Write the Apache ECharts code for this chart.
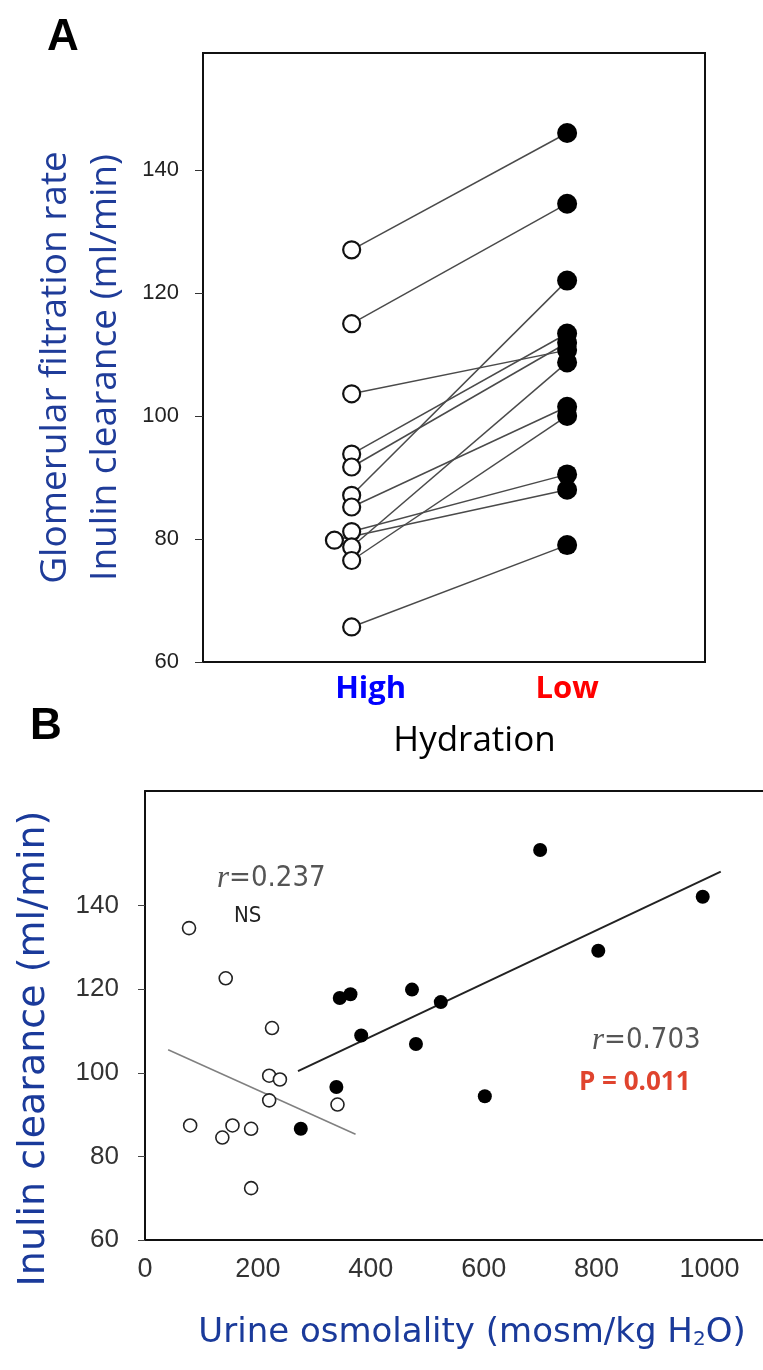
<!DOCTYPE html>
<html>
<head>
<meta charset="utf-8">
<script src="https://cdn.jsdelivr.net/npm/echarts@6/dist/echarts.min.js"></script>
<style>
  html, body { margin: 0; padding: 0; background: #fff; }
  #chart { width: 763px; height: 1370px; }
</style>
</head>
<body>
<div id="chart"></div>
<script>
// Panel A: paired GFR values, high vs low hydration
const highGfr = [127, 115, 103.6, 93.8, 91.7, 87.1, 85.2, 81.2, 79.8, 78.7, 76.5, 65.7];
const lowGfr  = [146, 134.5, 110.7, 113.4, 111.9, 122, 101.5, 90.5, 88, 108.7, 100, 79];
// x position of each high-hydration circle (one sits a bit to the left)
const highPos = [1, 1, 1, 1, 1, 1, 1, 1, 0.92, 1, 1, 1];
const hydrationTicks = ['High', 'Low'];
const gfrTicks = [60, 80, 100, 120, 140];

// Panel B: urine osmolality vs inulin clearance
const highOsm = [78, 143, 225, 220, 239, 220, 341, 80, 155, 137, 188, 188];
const highClr = [134.6, 122.6, 110.7, 99.3, 98.4, 93.4, 92.4, 87.4, 87.4, 84.5, 86.6, 72.4];
const lowOsm  = [700, 988, 803, 345, 364, 473, 524, 383, 480, 339, 276, 602];
const lowClr  = [153.3, 142.1, 129.2, 117.9, 118.8, 119.9, 116.9, 108.9, 106.9, 96.6, 86.6, 94.4];
const osmTicks = [0, 200, 400, 600, 800, 1000];
const clrTicks = [60, 80, 100, 120, 140];
// regression line endpoints as drawn
const highFitX = [41, 373];
const highFitY = [105.5, 85.3];
const lowFitX  = [271, 1020];
const lowFitY  = [100.4, 148.1];

const narrow = '"DejaVu Sans Condensed", "Liberation Sans", sans-serif';
const frame = { show: true, lineStyle: { color: '#111', width: 2 } };

const chart = echarts.init(document.getElementById('chart'));

const pairSeries = highGfr.map((h, i) => ({
  type: 'line',
  xAxisIndex: 0, yAxisIndex: 0,
  data: [[highPos[i], h], [2, lowGfr[i]]],
  symbol: 'none',
  silent: true,
  lineStyle: { color: '#4a4a4a', width: 1.5 },
  z: 2
}));

const option = {
  animation: false,
  backgroundColor: '#fff',
  grid: [
    { left: 203, top: 53, width: 502, height: 609, show: true, borderColor: '#111', borderWidth: 2 },
    // panel B is cut off at the right edge, so only three sides are drawn
    { left: 145, top: 791, right: 0, height: 449 }
  ],
  xAxis: [
    {
      type: 'value', gridIndex: 0, min: 0.31, max: 2.64,
      splitLine: { show: false }, axisLine: { show: false }, axisTick: { show: false },
      axisLabel: {
        margin: 12,
        formatter: v => Math.abs(v - 1) < 1e-6 ? '{h|' + hydrationTicks[0] + '}' :
                        Math.abs(v - 2) < 1e-6 ? '{l|' + hydrationTicks[1] + '}' : '',
        rich: {
          h: { color: '#0000ff', fontFamily: 'Open Sans', fontWeight: 'bold', fontSize: 31, padding: [0, 0, 0, 38] },
          l: { color: '#ff0000', fontFamily: 'Open Sans', fontWeight: 'bold', fontSize: 31 }
        }
      },
      name: 'Hydration', nameLocation: 'middle', nameGap: 62,
      nameTextStyle: { color: '#000', fontFamily: 'Open Sans', fontSize: 35, padding: [0, 0, 0, 41] }
    },
    {
      type: 'value', gridIndex: 1, min: 0, max: 1094.8, interval: 200,
      splitLine: { show: false }, axisLine: frame, axisTick: { show: false },
      axisLabel: {
        margin: 16, color: '#333', fontFamily: 'Liberation Sans', fontSize: 27,
        customValues: osmTicks,
        formatter: v => (osmTicks.indexOf(v) >= 0 ? String(v) : '')
      },
      name: 'Urine osmolality (mosm/kg H{sub|2}O)', nameLocation: 'middle', nameGap: 76,
      nameTextStyle: {
        color: '#1a3a9a', fontFamily: 'DejaVu Sans', fontSize: 34, padding: [0, 0, 0, 36],
        rich: { sub: { fontFamily: 'DejaVu Sans', fontSize: 20, color: '#1a3a9a', padding: [14, 0, 0, 0] } }
      }
    },
    {
      // top edge of panel B frame
      type: 'value', gridIndex: 1, position: 'top', min: 0, max: 1094.8,
      splitLine: { show: false }, axisLine: frame, axisTick: { show: false }, axisLabel: { show: false }
    }
  ],
  yAxis: [
    {
      type: 'value', gridIndex: 0, min: 60, max: 159, interval: 20,
      splitLine: { show: false }, axisLine: { show: false },
      axisTick: { show: true, length: 8, lineStyle: { color: '#333' }, customValues: gfrTicks },
      axisLabel: {
        margin: 24, color: '#222', fontFamily: 'Liberation Sans', fontSize: 22,
        customValues: gfrTicks,
        formatter: v => (gfrTicks.indexOf(v) >= 0 ? String(v) : '')
      },
      name: 'Glomerular filtration rate\nInulin clearance (ml/min)', nameLocation: 'middle', nameGap: 73,
      nameTextStyle: { color: '#1f3c99', fontFamily: 'Open Sans', fontSize: 37, lineHeight: 50, padding: [0, 20, 0, 0] }
    },
    {
      type: 'value', gridIndex: 1, min: 60, max: 167.4, interval: 20,
      splitLine: { show: false }, axisLine: frame,
      axisTick: { show: true, length: 7, lineStyle: { color: '#444' }, customValues: clrTicks },
      axisLabel: {
        margin: 26, color: '#333', fontFamily: 'Liberation Sans', fontSize: 26,
        customValues: clrTicks,
        formatter: v => (clrTicks.indexOf(v) >= 0 ? String(v) : '')
      },
      name: 'Inulin clearance (ml/min)', nameLocation: 'middle', nameGap: 90,
      nameTextStyle: { color: '#1a3a9a', fontFamily: 'DejaVu Sans', fontSize: 38, lineHeight: 42, padding: [0, 66, 0, 0] }
    }
  ],
  series: pairSeries.concat([
    {
      type: 'scatter', xAxisIndex: 0, yAxisIndex: 0,
      data: highGfr.map((v, i) => [highPos[i], v]),
      symbol: 'circle', symbolSize: 17,
      itemStyle: { color: '#fff', borderColor: '#111', borderWidth: 2.2, opacity: 1 },
      z: 4
    },
    {
      type: 'scatter', xAxisIndex: 0, yAxisIndex: 0,
      data: lowGfr.map(v => [2, v]),
      symbol: 'circle', symbolSize: 20,
      itemStyle: { color: '#000', opacity: 1 },
      z: 4
    },
    {
      type: 'line', xAxisIndex: 1, yAxisIndex: 1,
      data: highFitX.map((x, i) => [x, highFitY[i]]),
      symbol: 'none', lineStyle: { color: '#808080', width: 1.5 }, z: 2
    },
    {
      type: 'line', xAxisIndex: 1, yAxisIndex: 1,
      data: lowFitX.map((x, i) => [x, lowFitY[i]]),
      symbol: 'none', lineStyle: { color: '#222', width: 2 }, z: 2
    },
    {
      type: 'scatter', xAxisIndex: 1, yAxisIndex: 1,
      data: highOsm.map((x, i) => [x, highClr[i]]),
      symbol: 'circle', symbolSize: 13,
      itemStyle: { color: '#fff', borderColor: '#222', borderWidth: 1.6, opacity: 1 },
      z: 4
    },
    {
      type: 'scatter', xAxisIndex: 1, yAxisIndex: 1,
      data: lowOsm.map((x, i) => [x, lowClr[i]]),
      symbol: 'circle', symbolSize: 14,
      itemStyle: { color: '#000', opacity: 1 },
      z: 4
    }
  ]),
  graphic: [
    { type: 'text', left: 47, top: 16, style: { text: 'A', fontFamily: 'Liberation Sans', fontWeight: 'bold', fontSize: 44, fill: '#000' } },
    { type: 'text', left: 30, top: 705, style: { text: 'B', fontFamily: 'Liberation Sans', fontWeight: 'bold', fontSize: 44, fill: '#000' } },
    {
      type: 'text', left: 217, top: 863,
      style: {
        text: '{i|r}=0.237', fontFamily: narrow, fontSize: 29, fill: '#555',
        rich: { i: { fontFamily: 'Liberation Serif', fontStyle: 'italic', fontSize: 31, fill: '#555' } }
      }
    },
    { type: 'text', left: 234, top: 905, style: { text: 'NS', fontFamily: narrow, fontSize: 22, fill: '#222' } },
    {
      type: 'text', left: 592, top: 1025,
      style: {
        text: '{i|r}=0.703', fontFamily: narrow, fontSize: 29, fill: '#555',
        rich: { i: { fontFamily: 'Liberation Serif', fontStyle: 'italic', fontSize: 31, fill: '#555' } }
      }
    },
    { type: 'text', left: 579, top: 1070, style: { text: 'P = 0.011', fontFamily: 'Open Sans', fontWeight: 'bold', fontSize: 26, fill: '#e0442e' } }
  ]
};

chart.setOption(option);
</script>
</body>
</html>
